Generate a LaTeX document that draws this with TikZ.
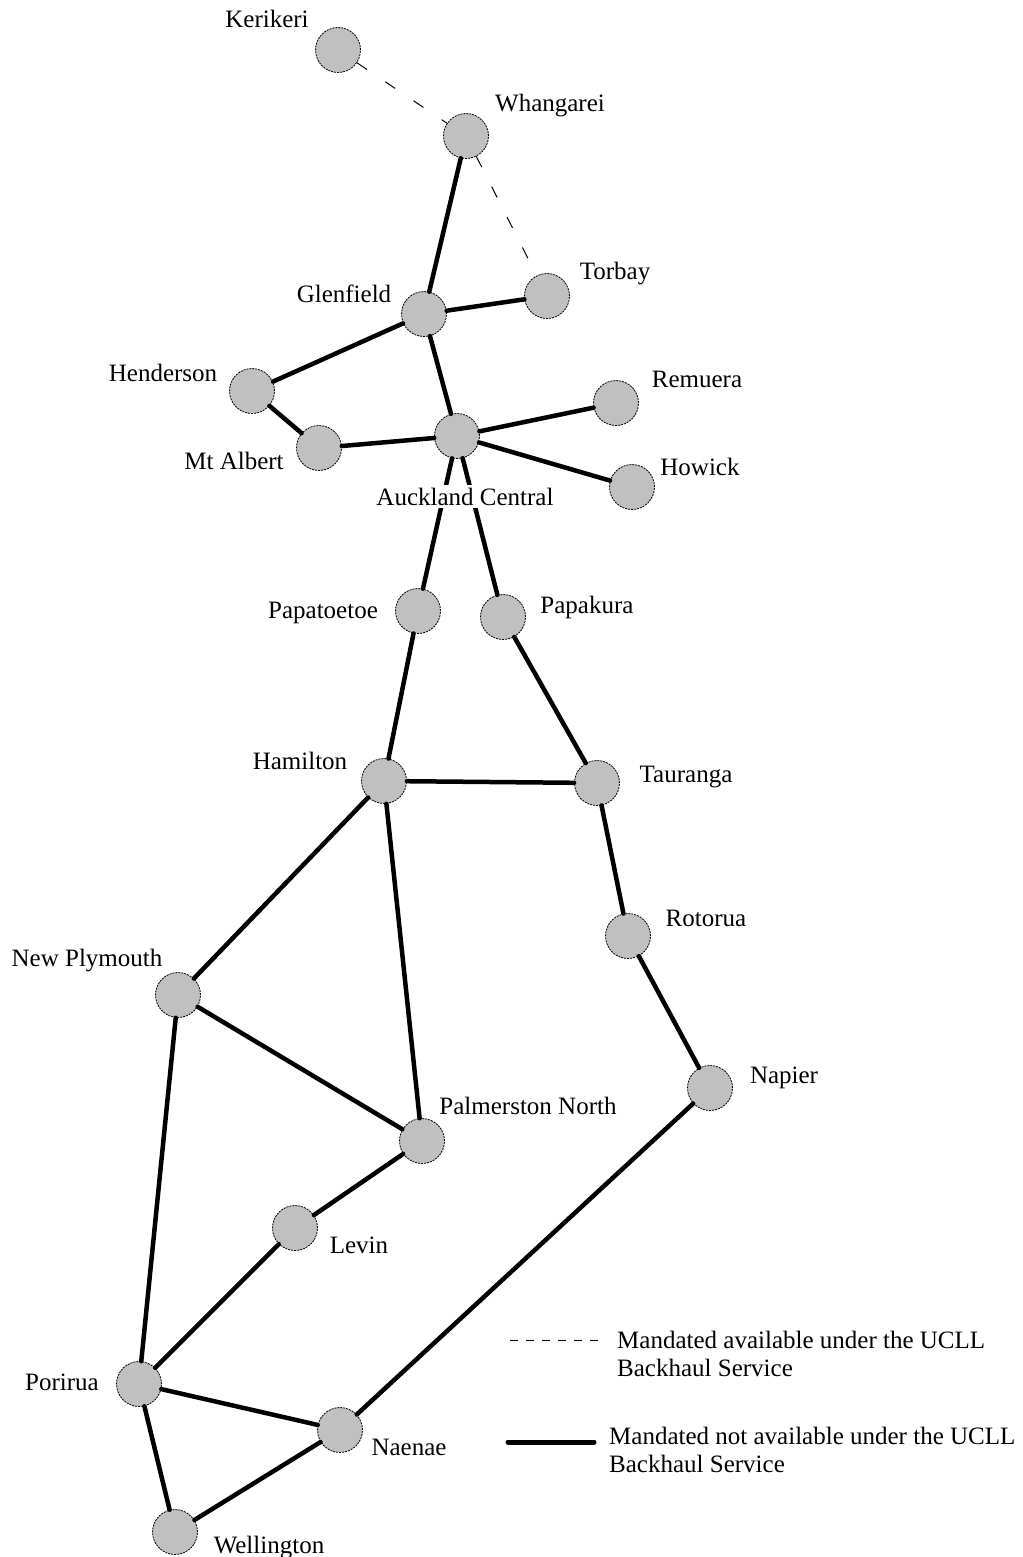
\documentclass[tikz,border=0pt]{standalone}
\usepackage{fontspec}
\setmainfont{Liberation Serif}
\begin{document}
\begin{tikzpicture}[x=1pt,y=-1pt,
  city/.style={circle,draw=black,fill={rgb,255:red,192;green,192;blue,192},minimum size=45pt,inner sep=0pt,line width=0.8pt,dash pattern=on 2pt off 1pt},
  lbl/.style={anchor=base,inner sep=0pt,font=\fontsize{25}{28}\selectfont},
  legtxt/.style={anchor=west,inner sep=0pt,font=\fontsize{25}{28}\selectfont,align=left},
  thick line/.style={line width=4.5pt,line cap=round},
  thin dash/.style={line width=1pt,dash pattern=on 12pt off 22pt}]
\useasboundingbox (0,0) rectangle (1022,1557);
\fill[white] (0,0) rectangle (1022,1557);
% nodes
\node[city] (ker) at (338,50) {};
\node[city] (wha) at (466,136) {};
\node[city] (tor) at (547,296) {};
\node[city] (gle) at (424,314) {};
\node[city] (hen) at (252,391) {};
\node[city] (mta) at (319,448) {};
\node[city] (akl) at (457,436) {};
\node[city] (rem) at (616,403) {};
\node[city] (how) at (632,487) {};
\node[city] (pap) at (418,611) {};
\node[city] (pak) at (503,617) {};
\node[city] (ham) at (384,781) {};
\node[city] (tau) at (597,783) {};
\node[city] (rot) at (628,936) {};
\node[city] (nep) at (178,995) {};
\node[city] (nap) at (710,1088) {};
\node[city] (pmn) at (422,1141) {};
\node[city] (lev) at (295,1228) {};
\node[city] (por) at (139,1384) {};
\node[city] (nae) at (340,1430) {};
\node[city] (wel) at (175,1532) {};
% labels
\node[lbl] (lker) at (267,28) {Kerikeri};
\node[lbl] (lwha) at (550,112) {Whangarei};
\node[lbl] (ltor) at (615,279) {Torbay};
\node[lbl] (lgle) at (344,302) {Glenfield};
\node[lbl] (lhen) at (163,381) {Henderson};
\node[lbl] (lmta) at (234,469) {Mt Albert};
\node[lbl] (lrem) at (697,387) {Remuera};
\node[lbl] (lhow) at (700,475) {Howick};
\node[lbl] (lpap) at (323,618) {Papatoetoe};
\node[lbl] (lpak) at (587,613) {Papakura};
\node[lbl] (lham) at (300,769) {Hamilton};
\node[lbl] (ltau) at (686,782) {Tauranga};
\node[lbl] (lrot) at (706,926) {Rotorua};
\node[lbl] (lnep) at (87,966) {New Plymouth};
\node[lbl] (lnap) at (784,1083) {Napier};
\node[lbl] (lpmn) at (528,1114) {Palmerston North};
\node[lbl] (llev) at (359,1253) {Levin};
\node[lbl] (lpor) at (62,1390) {Porirua};
\node[lbl] (lnae) at (409,1455) {Naenae};
\node[lbl] (lwel) at (269,1553) {Wellington};
% dashed edges
\draw[thin dash] (ker) -- (wha);
\draw[thin dash] (wha) -- (tor);
% thick edges
\draw[thick line] (wha) -- (gle);
\draw[thick line] (gle) -- (tor);
\draw[thick line] (gle) -- (hen);
\draw[thick line] (gle) -- (akl);
\draw[thick line] (hen) -- (mta);
\draw[thick line] (mta) -- (akl);
\draw[thick line] (akl) -- (rem);
\draw[thick line] (akl) -- (how);
\draw[thick line] (akl) -- (pap);
\draw[thick line] (akl) -- (pak);
\draw[thick line] (pap) -- (ham);
\draw[thick line] (pak) -- (tau);
\draw[thick line] (ham) -- (tau);
\draw[thick line] (ham) -- (nep);
\draw[thick line] (ham) -- (pmn);
\draw[thick line] (tau) -- (rot);
\draw[thick line] (rot) -- (nap);
\draw[thick line] (nep) -- (pmn);
\draw[thick line] (nep) -- (por);
\draw[thick line] (pmn) -- (lev);
\draw[thick line] (lev) -- (por);
\draw[thick line] (por) -- (nae);
\draw[thick line] (por) -- (wel);
\draw[thick line] (nae) -- (wel);
\draw[thick line] (nap) -- (nae);
% label drawn over the lines
\node[lbl,fill=white,inner xsep=2pt,inner ysep=3pt] (lakl) at (465,505) {Auckland Central};
% legend
\coordinate (d1) at (510,1340);
\coordinate (d2) at (600,1340);
\draw[line width=1pt,dash pattern=on 8pt off 8pt] (d1) -- (d2);
\node[legtxt] (t1) at (617,1354) {Mandated available under the UCLL\\Backhaul Service};
\coordinate (s1) at (508,1442);
\coordinate (s2) at (594,1442);
\draw[line width=5pt,line cap=round] (s1) -- (s2);
\node[legtxt] (t2) at (609,1450) {Mandated not available under the UCLL\\Backhaul Service};
\end{tikzpicture}
\end{document}
